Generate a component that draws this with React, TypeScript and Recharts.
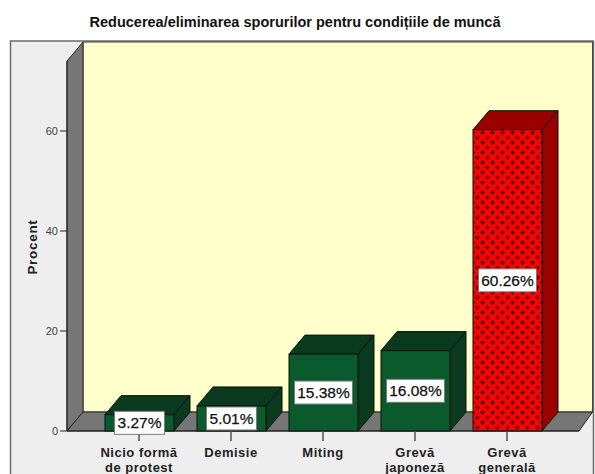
import React from "react";
import { Bar, ComposedChart, LabelList, XAxis, YAxis } from "recharts";

const categories = ["Nicio formă\nde protest", "Demisie", "Miting", "Grevă\njaponeză", "Grevă\ngenerală"];
const percentValues = [3.27, 5.01, 15.38, 16.08, 60.26];
const yTicks = [0, 20, 40, 60];

const data = categories.map((name, i) => ({ name, percent: percentValues[i] }));

const WIDTH = 595;
const HEIGHT = 474;
const FONT = '"Liberation Sans", Arial, sans-serif';
// depth of the fake 3d box
const DX = 16;
const DY = 19;
const AXIS_LEFT = 67;
const AXIS_BOTTOM = 43;
const margin = { top: 61, right: 16, bottom: 0, left: 0 };
const plotBottom = HEIGHT - AXIS_BOTTOM;
const plotRight = WIDTH - margin.right;

function Bar3D(props: any) {
  const { x, y, width, height, index } = props;
  const isRed = index === categories.length - 1;
  const dark = isRed ? "#990000" : "#0a3a1f";
  const front = isRed ? "url(#crossHatch)" : "#0b5a2d";
  const outline = "#0b120b";
  return (
    <g stroke={outline} strokeWidth={1}>
      <polygon
        points={`${x},${y} ${x + DX},${y - DY} ${x + width + DX},${y - DY} ${x + width},${y}`}
        fill={dark}
      />
      <polygon
        points={`${x + width},${y} ${x + width + DX},${y - DY} ${x + width + DX},${y + height - DY} ${x + width},${y + height}`}
        fill={dark}
      />
      <rect x={x} y={y} width={width} height={height} fill={front} />
    </g>
  );
}

function ValueLabel(props: any) {
  const { x, y, width, height, value } = props;
  const text = `${value.toFixed(2)}%`;
  const boxW = value < 10 ? 50 : 58;
  const boxH = 23;
  const cx = x + width / 2;
  const cy = y + height / 2;
  return (
    <g>
      <rect x={cx - boxW / 2} y={cy - boxH / 2} width={boxW} height={boxH} fill="#ffffff" stroke="#7a7a7a" />
      <text
        x={cx}
        y={cy + 5.5}
        textAnchor="middle"
        fontFamily={FONT}
        fontSize={15.5}
        fill="#111111"
        stroke="#111111"
        strokeWidth={0.25}
      >
        {text}
      </text>
    </g>
  );
}

function CategoryTick(props: any) {
  const { x, y, payload } = props;
  const lines = String(payload.value).split("\n");
  return (
    <text textAnchor="middle" fontFamily={FONT} fontSize={13} fontWeight={700} letterSpacing={0.5} fill="#222222">
      {lines.map((line, i) => (
        <tspan key={i} x={x} y={y + 14 + i * 14.5}>
          {line}
        </tspan>
      ))}
    </text>
  );
}

function Backdrop() {
  return (
    <g>
      <defs>
        <pattern id="crossHatch" x={0} y={0} width={10} height={10} patternUnits="userSpaceOnUse">
          <rect width={10} height={10} fill="#ff0000" />
          <path d="M2.5 0v5M0 2.5h5M7.5 5v5M5 7.5h5" stroke="#6a0000" strokeWidth={1.5} fill="none" />
        </pattern>
      </defs>
      <rect x={0} y={0} width={WIDTH} height={HEIGHT} fill="#ffffff" />
      <rect x={10.5} y={41} width={WIDTH - 12} height={HEIGHT} fill="#eeeeee" stroke="#6b6b6b" strokeWidth={1.5} />
      <rect x={83} y={42} width={509.5} height={plotBottom - DY - 42} fill="#ffffcc" stroke="#444444" />
      <polygon
        points={`${AXIS_LEFT},${margin.top} 83,42 83,${plotBottom - DY} ${AXIS_LEFT},${plotBottom}`}
        fill="#767676"
        stroke="#222222"
      />
      <polygon
        points={`${AXIS_LEFT},${plotBottom} 83,${plotBottom - DY} 592.5,${plotBottom - DY} ${plotRight},${plotBottom}`}
        fill="#767676"
        stroke="#222222"
      />
      <text x={295} y={27} textAnchor="middle" fontFamily={FONT} fontSize={14.5} fontWeight={700} fill="#111111">
        Reducerea/eliminarea sporurilor pentru condițiile de muncă
      </text>
      <text
        x={37}
        y={247}
        transform="rotate(-90 37 247)"
        textAnchor="middle"
        fontFamily={FONT}
        fontSize={13.5}
        fontWeight={700}
        letterSpacing={0.7}
        fill="#222222"
      >
        Procent
      </text>
    </g>
  );
}

export default function App() {
  return (
    <div style={{ position: "absolute", left: 0, top: 0, width: WIDTH, height: HEIGHT, overflow: "hidden" }}>
      <ComposedChart width={WIDTH} height={HEIGHT} data={data} margin={margin}>
        <Backdrop />
        <XAxis
          dataKey="name"
          interval={0}
          height={AXIS_BOTTOM}
          padding={{ left: 26, right: 26 }}
          tick={<CategoryTick />}
          tickLine={{ stroke: "#555555", strokeWidth: 1.5 }}
          tickSize={10}
          axisLine={{ stroke: "#222222" }}
        />
        <YAxis
          domain={[0, 74]}
          ticks={yTicks}
          width={AXIS_LEFT}
          tickSize={7}
          tick={{ fontFamily: FONT, fontSize: 11, fill: "#444444" }}
          tickLine={{ stroke: "#222222" }}
          axisLine={{ stroke: "#222222" }}
        />
        <Bar dataKey="percent" barSize={69} shape={<Bar3D />} isAnimationActive={false}>
          <LabelList dataKey="percent" content={<ValueLabel />} />
        </Bar>
      </ComposedChart>
    </div>
  );
}
